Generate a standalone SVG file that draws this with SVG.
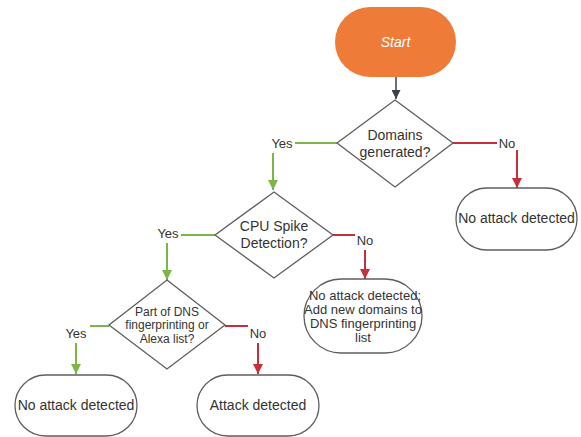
<svg xmlns="http://www.w3.org/2000/svg" width="581" height="437" viewBox="0 0 581 437">
<defs>
<style>
.node{fill:#fff;stroke:#5e5e5e;stroke-width:1.3}
.t{font-family:"Liberation Sans",Arial,sans-serif;fill:#333;text-anchor:middle;dominant-baseline:central}
.lbl{font-family:"Liberation Sans",Arial,sans-serif;fill:#333;font-size:13px;text-anchor:middle;dominant-baseline:central}
.bg{fill:#fff}
.g{fill:none;stroke:#7ab648;stroke-width:2}
.r{fill:none;stroke:#c92d39;stroke-width:2}
.k{fill:none;stroke:#3a414a;stroke-width:1.5}
</style>
<marker id="ag" viewBox="0 0 10 10" refX="10" refY="5" markerWidth="5" markerHeight="5" orient="auto" markerUnits="strokeWidth"><path d="M0,0 L10,5 L0,10 Z" fill="#7ab648"/></marker>
<marker id="ar" viewBox="0 0 10 10" refX="10" refY="5" markerWidth="5" markerHeight="5" orient="auto" markerUnits="strokeWidth"><path d="M0,0 L10,5 L0,10 Z" fill="#c92d39"/></marker>
<marker id="ak" viewBox="0 0 10 10" refX="10" refY="5" markerWidth="6" markerHeight="6" orient="auto" markerUnits="strokeWidth"><path d="M0,0 L10,5 L0,10 Z" fill="#3a414a"/></marker>
</defs>
<rect width="581" height="437" fill="#fff"/>
<g id="connectors">
<path class="k" d="M396,77 V99" marker-end="url(#ak)"/>
<path class="g" d="M337,143 H273 V190" marker-end="url(#ag)"/>
<rect class="bg" x="268" y="134" width="27" height="19"/>
<text class="lbl" x="282" y="143">Yes</text>
<path class="r" d="M453,143 H517 V188" marker-end="url(#ar)"/>
<rect class="bg" x="497" y="134" width="23" height="16"/>
<text class="lbl" x="507" y="143">No</text>
<path class="g" d="M215,235 H167 V280" marker-end="url(#ag)"/>
<rect class="bg" x="154" y="224" width="27" height="19"/>
<text class="lbl" x="168" y="233">Yes</text>
<path class="r" d="M333,235 H365 V279" marker-end="url(#ar)"/>
<rect class="bg" x="355" y="232" width="20" height="18"/>
<text class="lbl" x="365" y="240">No</text>
<path class="g" d="M109,326 H76 V374" marker-end="url(#ag)"/>
<rect class="bg" x="62" y="324" width="28" height="19"/>
<text class="lbl" x="76" y="333">Yes</text>
<path class="r" d="M225,326 H258 V374" marker-end="url(#ar)"/>
<rect class="bg" x="248" y="324" width="21" height="19"/>
<text class="lbl" x="258" y="333">No</text>
</g>
<g id="start">
<rect x="335" y="7" width="121" height="70" rx="35" fill="#ee7b38"/>
<text class="t" x="395.5" y="42" font-size="14" font-style="italic" fill="#fff" style="fill:#fff">Start</text>
</g>
<g id="domains-generated">
<polygon class="node" points="395,100 453,143 395,187 337,143"/>
<text class="t" x="395" y="134.5" font-size="14">Domains</text>
<text class="t" x="395" y="151.5" font-size="14">generated?</text>
</g>
<g id="no-attack-1">
<rect class="node" x="456" y="188" width="121" height="62" rx="31"/>
<text class="t" x="516.5" y="218" font-size="14">No attack detected</text>
</g>
<g id="cpu-spike">
<polygon class="node" points="274,192 333,235 274,278 215,235"/>
<text class="t" x="274" y="225.5" font-size="14">CPU Spike</text>
<text class="t" x="274" y="242.5" font-size="14">Detection?</text>
</g>
<g id="no-attack-add">
<rect class="node" x="304" y="279" width="118" height="74" rx="37"/>
<text class="t" x="365" y="295" font-size="13">No attack detected;</text>
<text class="t" x="363" y="309" font-size="13">Add new domains to</text>
<text class="t" x="363" y="323" font-size="13">DNS fingerprinting</text>
<text class="t" x="363" y="337" font-size="13">list</text>
</g>
<g id="dns-fingerprint">
<polygon class="node" points="167,280 225,325 167,369 109,325"/>
<text class="t" x="167" y="311.5" font-size="12">Part of DNS</text>
<text class="t" x="167" y="325" font-size="12">fingerprinting or</text>
<text class="t" x="167" y="338.5" font-size="12">Alexa list?</text>
</g>
<g id="no-attack-2">
<rect class="node" x="15" y="375" width="122" height="61" rx="30.5"/>
<text class="t" x="76" y="405" font-size="14">No attack detected</text>
</g>
<g id="attack-detected">
<rect class="node" x="197" y="375" width="122" height="61" rx="30.5"/>
<text class="t" x="258" y="405" font-size="14">Attack detected</text>
</g>
</svg>
